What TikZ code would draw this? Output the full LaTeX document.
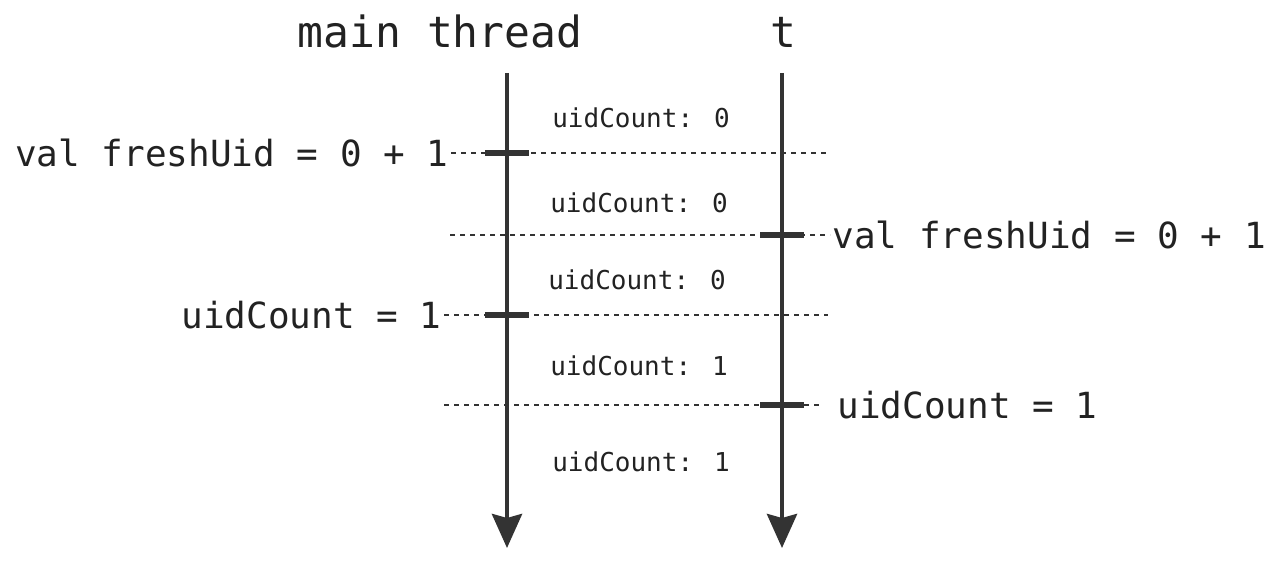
\documentclass[tikz,border=0pt]{standalone}
\usepackage{fontspec}
\newfontfamily\codefont{DejaVu Sans Mono}
\usetikzlibrary{arrows.meta,positioning}
\definecolor{ink}{HTML}{333333}
\definecolor{txt}{HTML}{222222}
\tikzset{
  thread/.style={draw=ink,line width=2.2pt,-{Stealth[length=17pt,width=15pt,inset=2pt]}},
  tickmark/.style={draw=ink,line width=2.6pt},
  sync/.style={draw=ink,line width=1pt,dash pattern=on 2.5pt off 2.5pt},
  ttitle/.style={font=\codefont\fontsize{21.5}{24}\selectfont,text=txt},
  stmt/.style={font=\codefont\fontsize{18}{20}\selectfont,text=txt,inner sep=1pt},
  state/.style={font=\codefont\fontsize{13}{15}\selectfont,text=txt}}
\begin{document}
\begin{tikzpicture}[x=0.5pt,y=-0.5pt]
\useasboundingbox (0,0) rectangle (1280,565);
% threads
\node[ttitle,anchor=base] (mainT) at (440,48) {main thread};
\node[ttitle,anchor=base] (tT) at (783,48) {t};
\coordinate (mtop) at (507,73);\coordinate (mbot) at (507,548);
\coordinate (ttop) at (782,73);\coordinate (tbot) at (782,548);
\draw[thread] (mtop) -- (mbot);
\draw[thread] (ttop) -- (tbot);
% shared state between events
\node[state] (s0) at (641,118) {uidCount: 0};
\node[state] (s1) at (639,203) {uidCount: 0};
\node[state] (s2) at (637,280) {uidCount: 0};
\node[state] (s3) at (639,366) {uidCount: 1};
\node[state] (s4) at (641,462) {uidCount: 1};
% event 1: main reads
\coordinate (k1) at (507,153);\coordinate (e1) at (830,153);
\node[stmt,anchor=east] (fu1) at (451,153) {val freshUid = 0 + 1};
\draw[sync] (fu1.east) -- (e1);
\draw[tickmark] ([xshift=-11pt]k1) -- ([xshift=11pt]k1);
% event 2: t reads
\coordinate (k2) at (782,235);\coordinate (e2) at (450,235);
\node[stmt,anchor=west] (fu2) at (830,235) {val freshUid = 0 + 1};
\draw[sync] (e2) -- (fu2.west);
\draw[tickmark] ([xshift=-11pt]k2) -- ([xshift=11pt]k2);
% event 3: main writes
\coordinate (k3) at (507,315);\coordinate (e3) at (828,315);
\node[stmt,anchor=east] (uc1) at (444,315) {uidCount = 1};
\draw[sync] (uc1.east) -- (e3);
\draw[tickmark] ([xshift=-11pt]k3) -- ([xshift=11pt]k3);
% event 4: t writes
\coordinate (k4) at (782,405);\coordinate (e4) at (444,405);
\node[stmt,anchor=west] (uc2) at (835,405) {uidCount = 1};
\draw[sync] (e4) -- ([xshift=-6pt]uc2.west);
\draw[tickmark] ([xshift=-11pt]k4) -- ([xshift=11pt]k4);
\end{tikzpicture}
\end{document}
